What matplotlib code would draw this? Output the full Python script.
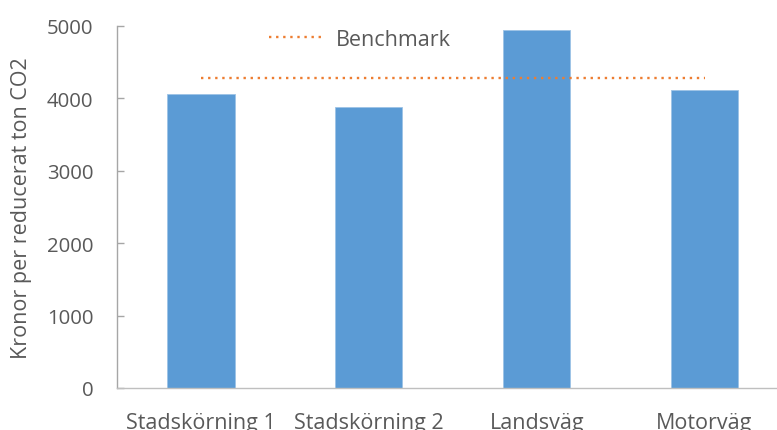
import matplotlib
matplotlib.use("Agg")
import matplotlib.pyplot as plt
import numpy as np

categories = ["Stadskörning 1", "Stadskörning 2", "Landsväg", "Motorväg"]
cost_values = [4060, 3880, 4950, 4110]
benchmark_values = [4280, 4280, 4280, 4280]
y_ticks = [0, 1000, 2000, 3000, 4000, 5000]

plt.rcParams["font.family"] = ["Open Sans", "DejaVu Sans"]
text_color = "#595959"

fig = plt.figure(figsize=(7.77, 4.31), dpi=100)
ax_w = (788.5 - 117) / 777
ax = fig.add_axes([117 / 777, 42 / 431, ax_w, (389 - 27) / 431])

x = np.arange(len(categories))
ax.bar(x, cost_values, width=0.4, color="#5B9BD5", edgecolor="#9DC3E6", linewidth=0.6, zorder=2)
ax.plot(x, benchmark_values, color="#ED7D31", linestyle=(0, (1, 2)), linewidth=1.7,
        label="Benchmark", zorder=3)

ax.set_xlim(-0.5, len(categories) - 0.5)
ax.set_ylim(0, 5000)
ax.set_yticks(y_ticks)
ax.set_yticklabels([str(v) for v in y_ticks])
ax.set_xticks(x)
ax.set_xticklabels(categories)

for side in ("top", "right"):
    ax.spines[side].set_visible(False)
ax.spines["left"].set_color("#A6A6A6")
ax.spines["left"].set_linewidth(1.0)
ax.spines["bottom"].set_color("#BFBFBF")
ax.spines["bottom"].set_linewidth(1.0)

ax.tick_params(axis="y", direction="in", length=5, width=1, color="#A6A6A6",
               labelsize=14.7, labelcolor=text_color, pad=17)
ax.tick_params(axis="x", length=0, labelsize=15.5, labelcolor=text_color, pad=17)

ax.set_ylabel("Kronor per reducerat ton CO2", fontsize=15.5, color=text_color)
ax.yaxis.set_label_coords((32 - 117) / 777 / ax_w, 0.5)

leg = fig.legend(loc="center", bbox_to_anchor=(360 / 777, 1 - 40 / 431), frameon=False,
                 fontsize=15.5, handlelength=2.6, handletextpad=0.5)
for t in leg.get_texts():
    t.set_color(text_color)

fig.savefig("out.png", dpi=100)
